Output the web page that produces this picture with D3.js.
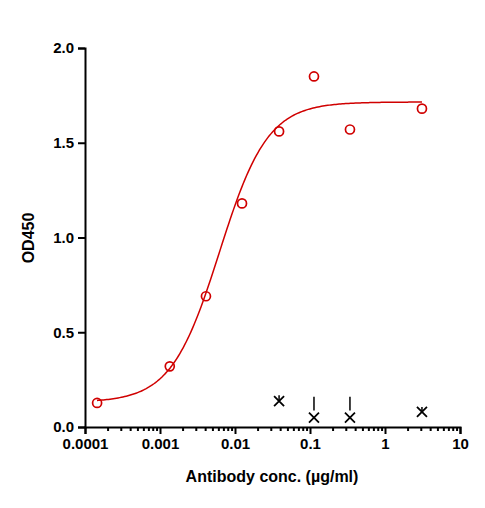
<!DOCTYPE html><html><head><script src="https://cdn.jsdelivr.net/npm/d3@7"></script>
<style>body{margin:0;background:#fff}text{font-family:Arial,"Liberation Sans",sans-serif;font-weight:bold}</style></head><body><svg width="485" height="508"></svg><script>
const conc=[0.000145,0.00135,0.0041,0.0124,0.0387,0.113,0.341,3.11];
const od=[0.127,0.32,0.69,1.18,1.56,1.85,1.57,1.68];
const ctrlConc=[0.0387,0.113,0.341,3.11];
const ctrlOd=[0.137,0.05,0.05,0.08];
const ctrlErr=[0.03,0.11,0.11,0.025];
const fit={bottom:0.13,top:1.715,ec50:0.0062,hill:1.35};
const xTicks=[0.0001,0.001,0.01,0.1,1,10];
const xLabels=["0.0001","0.001","0.01","0.1","1","10"];
const yTicks=[0,0.5,1,1.5,2];
const svg=d3.select("svg");
const x=d3.scaleLog().domain([0.0001,10]).range([85,460]);
const y=d3.scaleLinear().domain([0,2]).range([427,48]);
const minor=[];for(let e=-4;e<1;e++)for(let k=2;k<10;k++)minor.push(k*Math.pow(10,e));
const xa=svg.append("g").attr("transform","translate(0,427)");
xa.call(d3.axisBottom(x).tickValues(xTicks).tickFormat((d,i)=>xLabels[i]).tickSize(7).tickPadding(4));
xa.append("g").call(d3.axisBottom(x).tickValues(minor).tickFormat("").tickSize(4)).select(".domain").remove();
const ya=svg.append("g").attr("transform","translate(85,0)");
ya.call(d3.axisLeft(y).tickValues(yTicks).tickFormat(d3.format(".1f")).tickSize(7).tickPadding(4));
svg.selectAll(".domain,.tick line").attr("stroke","#000").attr("stroke-width",2);
svg.selectAll(".tick text").attr("font-size",15).attr("fill","#000");
const f=c=>fit.bottom+(fit.top-fit.bottom)/(1+Math.pow(fit.ec50/c,fit.hill));
const cs=d3.range(0,201).map(i=>Math.pow(10,-3.84+i*(0.493+3.84)/200));
svg.append("path").attr("d",d3.line().x(c=>x(c)).y(c=>y(f(c)))(cs)).attr("fill","none").attr("stroke","#d00000").attr("stroke-width",1.5);
svg.selectAll(".pt").data(conc).enter().append("circle").attr("cx",d=>x(d)).attr("cy",(d,i)=>y(od[i])).attr("r",4.5).attr("fill","none").attr("stroke","#d00000").attr("stroke-width",1.7);
const g=svg.selectAll(".ctrl").data(ctrlConc).enter().append("g");
g.append("line").attr("x1",d=>x(d)).attr("x2",d=>x(d)).attr("y1",(d,i)=>y(ctrlOd[i])-(ctrlErr[i]>0.05?7:0)).attr("y2",(d,i)=>y(ctrlOd[i]+ctrlErr[i])).attr("stroke","#000").attr("stroke-width",1.5);
g.append("path").attr("d",(d,i)=>{const cx=x(d),cy=y(ctrlOd[i]);return `M${cx-5},${cy-5}L${cx+5},${cy+5}M${cx-5},${cy+5}L${cx+5},${cy-5}`}).attr("stroke","#000").attr("stroke-width",1.8);
svg.append("text").attr("x",272).attr("y",482).attr("text-anchor","middle").attr("font-size",16).text("Antibody conc. (µg/ml)");
svg.append("text").attr("transform","translate(34,238) rotate(-90)").attr("text-anchor","middle").attr("font-size",16).text("OD450");
</script></body></html>
